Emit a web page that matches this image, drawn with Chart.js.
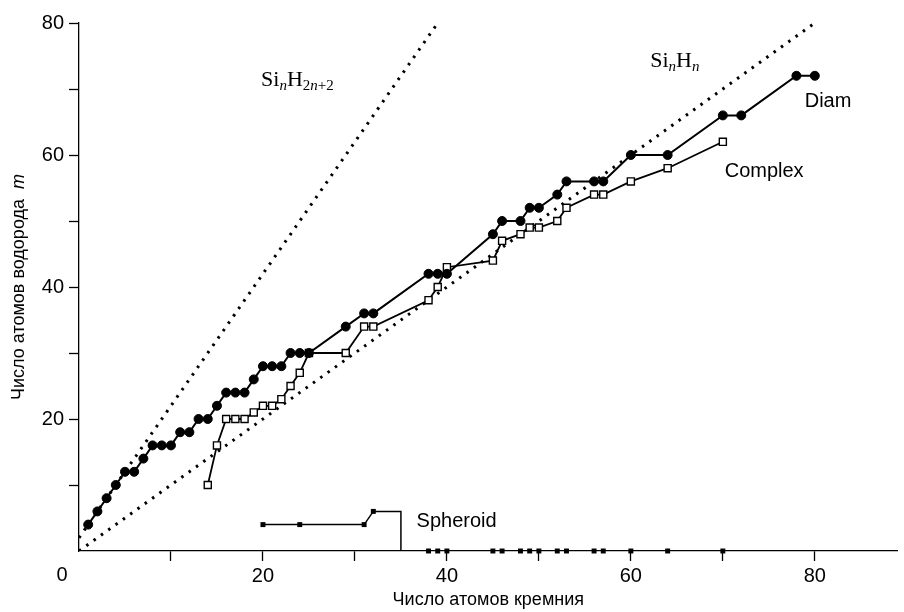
<!DOCTYPE html>
<html>
<head>
<meta charset="utf-8">
<script src="https://cdn.jsdelivr.net/npm/chart.js@4/dist/chart.umd.min.js"></script>
<style>
  html, body { margin: 0; padding: 0; background: #fff; }
  #wrap { width: 904px; height: 612px; }
</style>
</head>
<body>
<div id="wrap"><canvas id="myChart" width="904" height="612"></canvas></div>
<script>
//data (n = Si atoms, m = H atoms)
var diamN = [1, 2, 3, 4, 5, 6, 7, 8, 9, 10, 11, 12, 13, 14, 15, 16, 17, 18, 19, 20, 21, 22, 23, 24, 25, 29, 31, 32, 38, 39, 40, 45, 46, 48, 49, 50, 52, 53, 56, 57, 60, 64, 70, 72, 78, 80];
var diamM = [4, 6, 8, 10, 12, 12, 14, 16, 16, 16, 18, 18, 20, 20, 22, 24, 24, 24, 26, 28, 28, 28, 30, 30, 30, 34, 36, 36, 42, 42, 42, 48, 50, 50, 52, 52, 54, 56, 56, 56, 60, 60, 66, 66, 72, 72];

var complexN = [14, 15, 16, 17, 18, 19, 20, 21, 22, 23, 24, 25, 29, 31, 32, 38, 39, 40, 45, 46, 48, 49, 50, 52, 53, 56, 57, 60, 64, 70];
var complexM = [10, 16, 20, 20, 20, 21, 22, 22, 23, 25, 27, 30, 30, 34, 34, 38, 40, 43, 44, 47, 48, 49, 49, 50, 52, 54, 54, 56, 58, 62];

var spherN = [20, 24, 31, 32, 35, 35];
var spherM = [4, 4, 4, 6, 6, 0];
var spherAxisN = [38, 39, 40, 45, 46, 48, 49, 50, 52, 53, 56, 57, 60, 64, 70];

//reference lines SinH2n+2 and SinHn
var guide2N = [0, 39];
var guide2M = [2, 80];
var guide1N = [0, 80];
var guide1M = [0, 80];

var xTickLabels = [20, 40, 60, 80];
var yTickLabels = [20, 40, 60, 80];

function pts(xs, ys) {
  return xs.map(function (x, i) { return { x: x, y: ys[i] }; });
}

var SANS = "'Liberation Sans', Arial, sans-serif";
var SERIF = "'Liberation Serif', 'Times New Roman', serif";

//text labels: position in data units (baseline), runs of text
var notes = [
  { n: 19.8, m: 70.4, runs: [
    { t: "Si", f: "22px " + SERIF },
    { t: "n", f: "italic 15px " + SERIF, dy: 4 },
    { t: "H", f: "22px " + SERIF },
    { t: "2", f: "15px " + SERIF, dy: 4 },
    { t: "n", f: "italic 15px " + SERIF, dy: 4 },
    { t: "+2", f: "15px " + SERIF, dy: 4 }] },
  { n: 62.1, m: 73.3, runs: [
    { t: "Si", f: "22px " + SERIF },
    { t: "n", f: "italic 15px " + SERIF, dy: 4 },
    { t: "H", f: "22px " + SERIF },
    { t: "n", f: "italic 15px " + SERIF, dy: 4 }] },
  { n: 78.9, m: 67.2, runs: [{ t: "Diam", f: "20px " + SANS }] },
  { n: 70.2, m: 56.7, runs: [{ t: "Complex", f: "20px " + SANS }] },
  { n: 36.7, m: 3.7, runs: [{ t: "Spheroid", f: "20px " + SANS }] }
];

function drawRuns(ctx, x, y, runs) {
  runs.forEach(function (r) {
    ctx.font = r.f;
    ctx.fillText(r.t, x, y + (r.dy || 0));
    x += ctx.measureText(r.t).width;
  });
}

function runsWidth(ctx, runs) {
  var w = 0;
  runs.forEach(function (r) { ctx.font = r.f; w += ctx.measureText(r.t).width; });
  return w;
}

var textPlugin = {
  id: "texts",
  afterDraw: function (chart) {
    var ctx = chart.ctx;
    var xs = chart.scales.x, ys = chart.scales.y, area = chart.chartArea;
    ctx.save();
    ctx.fillStyle = "#000";
    ctx.textBaseline = "alphabetic";
    ctx.textAlign = "left";
    notes.forEach(function (nt) {
      drawRuns(ctx, xs.getPixelForValue(nt.n), ys.getPixelForValue(nt.m), nt.runs);
    });

    //shared zero at the corner
    ctx.font = "20px " + SANS;
    ctx.textAlign = "center";
    ctx.fillText("0", area.left - 17, area.bottom + 30);

    //x title
    ctx.font = "18px " + SANS;
    ctx.fillText("Число атомов кремния", (area.left + area.right) / 2, 605);

    //y title with italic m
    var yr = [
      { t: "Число атомов водорода  ", f: "18px " + SANS },
      { t: "m", f: "italic 18px " + SANS }
    ];
    ctx.textAlign = "left";
    ctx.translate(24, (area.top + area.bottom) / 2);
    ctx.rotate(-Math.PI / 2);
    drawRuns(ctx, -runsWidth(ctx, yr) / 2, 0, yr);
    ctx.restore();
  }
};

function tickCol(c) {
  return c.tick && c.tick.value === 0 ? "rgba(0,0,0,0)" : "#000";
}

new Chart("myChart", {
  type: "scatter",
  data: {
    datasets: [{
      label: "Diam",
      data: pts(diamN, diamM),
      showLine: true,
      borderColor: "#000",
      borderWidth: 2,
      pointStyle: "circle",
      pointRadius: 4.5,
      pointBackgroundColor: "#000",
      pointBorderColor: "#000",
      pointBorderWidth: 1,
      order: 1
    }, {
      label: "Complex",
      data: pts(complexN, complexM),
      showLine: true,
      borderColor: "#000",
      borderWidth: 1.8,
      pointStyle: "rect",
      pointRadius: 5,
      pointBackgroundColor: "#fff",
      pointBorderColor: "#000",
      pointBorderWidth: 1.4,
      order: 2
    }, {
      label: "Spheroid",
      data: pts(spherN, spherM),
      showLine: true,
      borderColor: "#000",
      borderWidth: 1.5,
      pointStyle: "rect",
      pointRadius: [3.5, 3.5, 3.5, 3.5, 0, 0],
      pointBackgroundColor: "#000",
      pointBorderWidth: 0,
      clip: false,
      order: 3
    }, {
      label: "Spheroid axis",
      data: spherAxisN.map(function (n) { return { x: n, y: 0 }; }),
      showLine: false,
      pointStyle: "rect",
      pointRadius: 3.5,
      pointBackgroundColor: "#000",
      pointBorderWidth: 0,
      clip: false,
      order: 3
    }, {
      label: "SinH2n+2",
      data: pts(guide2N, guide2M),
      showLine: true,
      borderColor: "#000",
      borderWidth: 3,
      borderDash: [2.5, 6.5],
      pointRadius: 0,
      order: 5
    }, {
      label: "SinHn",
      data: pts(guide1N, guide1M),
      showLine: true,
      borderColor: "#000",
      borderWidth: 3,
      borderDash: [2.5, 6.5],
      pointRadius: 0,
      order: 5
    }]
  },
  options: {
    responsive: false,
    animation: false,
    layout: { padding: { left: 0, top: 23, right: 3, bottom: 0 } },
    plugins: {
      legend: { display: false },
      tooltip: { enabled: false }
    },
    scales: {
      x: {
        type: "linear",
        min: 0,
        max: 89,
        afterFit: function (s) { s.height = 61; },
        border: { display: true, color: "#000", width: 1.3 },
        grid: { drawOnChartArea: false, drawTicks: true, tickLength: 10, tickWidth: 1.3, tickColor: tickCol },
        ticks: {
          stepSize: 10,
          includeBounds: false,
          padding: 3,
          color: "#000",
          font: { family: SANS, size: 20 },
          callback: function (v) { return xTickLabels.indexOf(v) >= 0 ? String(v) : ""; }
        }
      },
      y: {
        type: "linear",
        min: 0,
        max: 80,
        afterFit: function (s) { s.width = 79; },
        border: { display: true, color: "#000", width: 1.3 },
        grid: { drawOnChartArea: false, drawTicks: true, tickLength: 10, tickWidth: 1.3, tickColor: tickCol },
        ticks: {
          stepSize: 10,
          padding: 5,
          color: "#000",
          font: { family: SANS, size: 20 },
          callback: function (v) { return yTickLabels.indexOf(v) >= 0 ? String(v) : ""; }
        }
      }
    }
  },
  plugins: [textPlugin]
});
</script>
</body>
</html>
